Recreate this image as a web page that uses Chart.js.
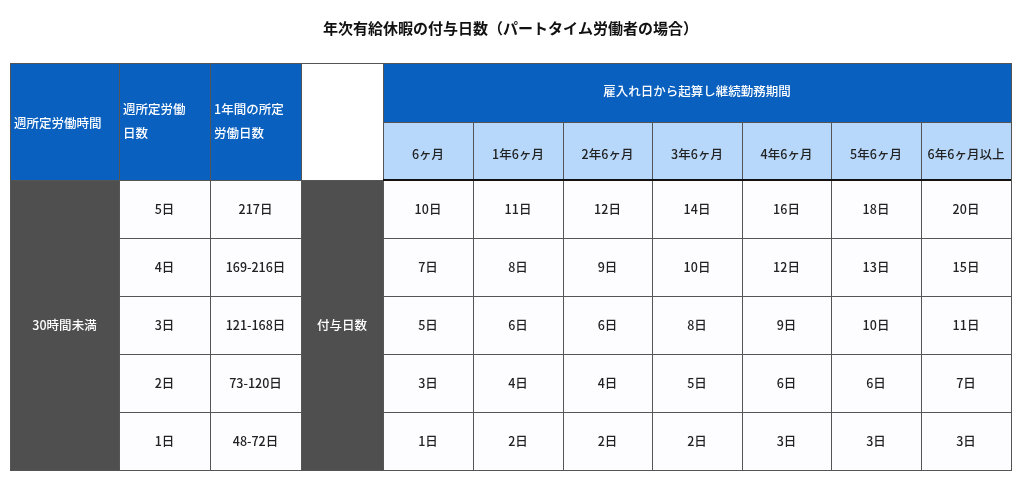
<!DOCTYPE html>
<html><head><meta charset="utf-8">
<script src="https://cdn.jsdelivr.net/npm/chart.js@4"></script>
<style>html,body{margin:0;padding:0;background:#fff}#c{display:block}</style>
</head><body>
<canvas id="c" width="1024" height="484"></canvas>
<script>
const title = "年次有給休暇の付与日数（パートタイム労働者の場合）";
const groupHeader = "雇入れ日から起算し継続勤務期間";
const periods = ["6ヶ月","1年6ヶ月","2年6ヶ月","3年6ヶ月","4年6ヶ月","5年6ヶ月","6年6ヶ月以上"];
const weeklyHoursLabel = "30時間未満";
const weeklyDays = ["5日","4日","3日","2日","1日"];
const annualDays = ["217日","169-216日","121-168日","73-120日","48-72日"];
const grantLabel = "付与日数";
const grantDays = [
  [10,11,12,14,16,18,20],
  [7,8,9,10,12,13,15],
  [5,6,6,8,9,10,11],
  [3,4,4,5,6,6,7],
  [1,2,2,2,3,3,3]
];
const headCols = [["週所定労働時間"],["週所定労働","日数"],["1年間の所定","労働日数"]];

// layout (in table units; x 0..1001, y 0..407)
const colEdges = [0,109,200,291,373,463,553,642,732,821,911,1001];
const rowEdges = [0,59,117,175,233,291,349,407];
const FONT = '"Noto Sans CJK JP","Noto Sans",sans-serif';

const tablePlugin = {
  id:'table',
  afterDraw(chart){
    const c = chart.ctx, X = chart.scales.x, Y = chart.scales.y;
    const px = v => X.getPixelForValue(v), py = v => Y.getPixelForValue(v);
    function rect(c0,c1,r0,r1,fill){
      const x0=px(colEdges[c0]),x1=px(colEdges[c1]),y0=py(rowEdges[r0]),y1=py(rowEdges[r1]);
      c.fillStyle=fill; c.fillRect(x0,y0,x1-x0,y1-y0);
      c.strokeStyle='#555'; c.lineWidth=1; c.strokeRect(x0+0.5,y0+0.5,x1-x0,y1-y0);
      return [x0,y0,x1,y1];
    }
    function text(s,x,y,color,align){
      c.fillStyle=color; c.textAlign=align||'center'; c.textBaseline='middle';
      c.font='500 12.5px '+FONT; c.fillText(s,x,y);
    }
    const blue='#0a60bf', light='#b8d8fb', gray='#4f4f4f', white='#fdfdff';
    // header left
    for(let i=0;i<3;i++){
      const [x0,y0,x1,y1]=rect(i,i+1,0,2,blue);
      const lines=headCols[i];
      const mid=(y0+y1)/2 - (i===0?0:12);
      lines.forEach((l,k)=>text(l,x0+4,mid+k*24-(lines.length-1)*0+ (i===0?2:0),'#fff','left'));
    }
    rect(3,4,0,2,'#ffffff');
    { const [x0,y0,x1,y1]=rect(4,11,0,1,blue); text(groupHeader,(x0+x1)/2,(y0+y1)/2-1,'#fff'); }
    periods.forEach((p,i)=>{ const [x0,y0,x1,y1]=rect(4+i,5+i,1,2,light); text(p,(x0+x1)/2,(y0+y1)/2+3,'#222'); });
    // body
    { const [x0,y0,x1,y1]=rect(0,1,2,7,gray); text(weeklyHoursLabel,(x0+x1)/2,(y0+y1)/2,'#fff'); }
    { const [x0,y0,x1,y1]=rect(3,4,2,7,gray); text(grantLabel,(x0+x1)/2,(y0+y1)/2,'#fff'); }
    for(let r=0;r<5;r++){
      let b=rect(1,2,2+r,3+r,white); text(weeklyDays[r],(b[0]+b[2])/2,(b[1]+b[3])/2,'#222');
      b=rect(2,3,2+r,3+r,white); text(annualDays[r],(b[0]+b[2])/2,(b[1]+b[3])/2,'#222');
      for(let k=0;k<7;k++){
        b=rect(4+k,5+k,2+r,3+r,white); text(grantDays[r][k]+'日',(b[0]+b[2])/2,(b[1]+b[3])/2,'#222');
      }
    }
    // thick line under header
    c.strokeStyle='#111'; c.lineWidth=2;
    c.beginPath(); c.moveTo(px(colEdges[4]),py(rowEdges[2])); c.lineTo(px(colEdges[11]),py(rowEdges[2])); c.stroke();
  }
};

new Chart(document.getElementById('c'),{
  type:'scatter',
  data:{datasets:[{data:[],showLine:false}]},
  options:{
    responsive:false, animation:false,
    layout:{padding:{left:10,right:13,top:0,bottom:14}},
    scales:{
      x:{type:'linear',min:0,max:1001,display:false},
      y:{type:'linear',min:0,max:407,reverse:true,display:false}
    },
    plugins:{
      legend:{display:false}, tooltip:{enabled:false},
      title:{display:true,text:title,color:'#111',font:{family:FONT,size:15,weight:'bold'},padding:{top:19,bottom:26}}
    }
  },
  plugins:[tablePlugin]
});
</script>
</body></html>
